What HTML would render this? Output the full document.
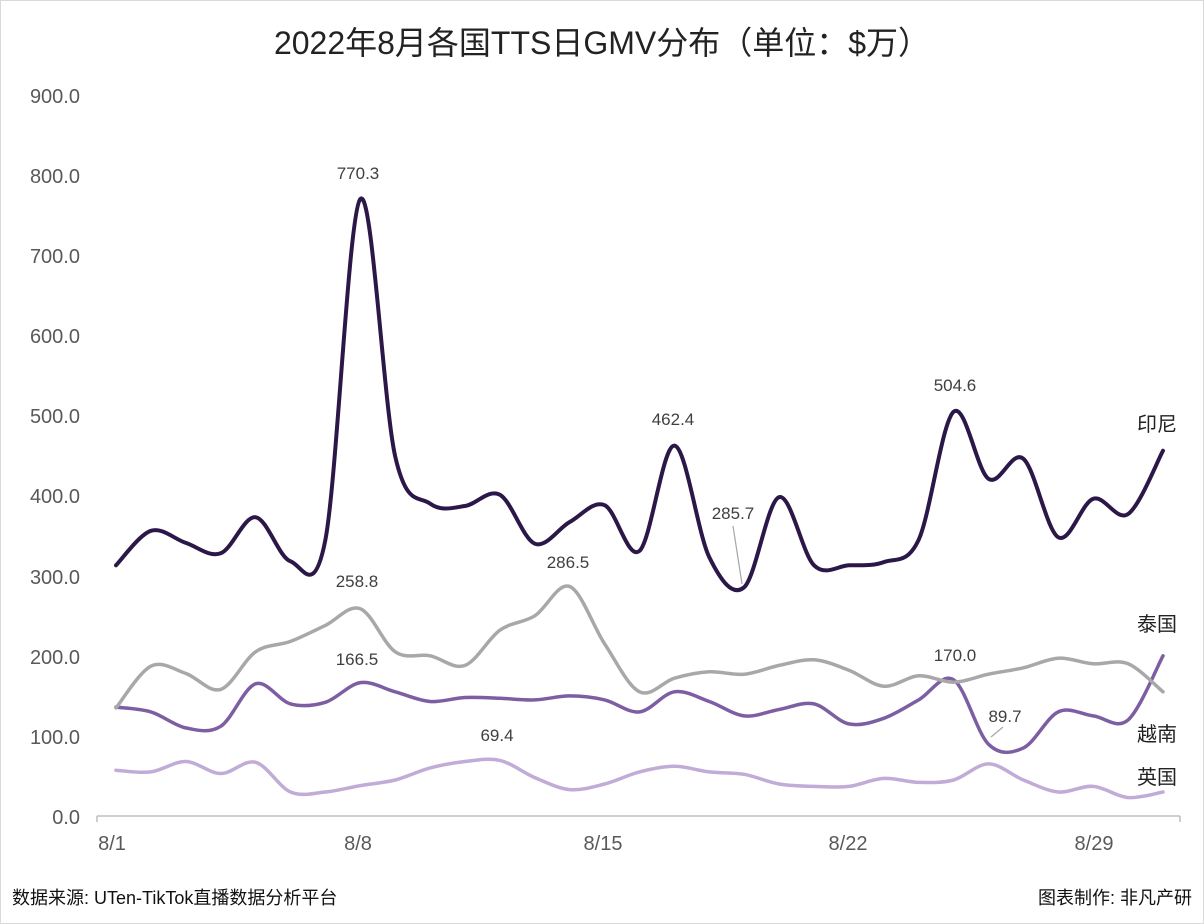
<!DOCTYPE html>
<html><head><meta charset="utf-8"><style>
body{margin:0;background:#fff;}
svg{display:block;font-family:"Liberation Sans","Noto Sans CJK SC",sans-serif;}
</style></head><body>
<svg id="s" width="1204" height="924" viewBox="0 0 1204 924" xmlns="http://www.w3.org/2000/svg">
<rect x="0.5" y="0.5" width="1203" height="923" fill="#fff" stroke="#d9d9d9"/>
<text x="602" y="54" font-size="32" text-anchor="middle" fill="#222">2022年8月各国TTS日GMV分布（单位：$万）</text>
<g font-size="20" fill="#595959" text-anchor="end">
<text x="80" y="103">900.0</text><text x="80" y="183">800.0</text><text x="80" y="263">700.0</text>
<text x="80" y="343">600.0</text><text x="80" y="423">500.0</text><text x="80" y="503">400.0</text>
<text x="80" y="584">300.0</text><text x="80" y="664">200.0</text><text x="80" y="744">100.0</text>
<text x="80" y="824">0.0</text>
</g>
<line x1="97" y1="816" x2="1180" y2="816" stroke="#bfbfbf" stroke-width="1.5"/>
<g stroke="#bfbfbf" stroke-width="1.5">
<line x1="97" y1="816" x2="97" y2="822"/><line x1="1180" y1="816" x2="1180" y2="822"/>
</g>
<g font-size="20" fill="#595959" text-anchor="middle">
<text x="112" y="850">8/1</text><text x="358" y="850">8/8</text><text x="603" y="850">8/15</text>
<text x="848" y="850">8/22</text><text x="1094" y="850">8/29</text>
</g>
<g id="lines"></g>
<g font-size="17" fill="#404040" text-anchor="middle">
<text x="358" y="179">770.3</text><text x="673" y="425">462.4</text><text x="733" y="519">285.7</text>
<text x="955" y="391">504.6</text><text x="357" y="587">258.8</text><text x="568" y="568">286.5</text>
<text x="357" y="665">166.5</text><text x="955" y="661">170.0</text><text x="1005" y="722">89.7</text>
<text x="497" y="741">69.4</text>
</g>
<line x1="733" y1="526" x2="742" y2="584" stroke="#a6a6a6" stroke-width="1.2"/>
<line x1="1003" y1="727" x2="991" y2="737" stroke="#a6a6a6" stroke-width="1.2"/>
<g font-size="20" fill="#222" text-anchor="middle">
<text x="1157" y="431">印尼</text><text x="1157" y="631">泰国</text>
<text x="1157" y="741">越南</text><text x="1157" y="784">英国</text>
</g>
<text x="12" y="904" font-size="18" fill="#111">数据来源: UTen-TikTok直播数据分析平台</text>
<text x="1192" y="904" font-size="18" fill="#111" text-anchor="end">图表制作: 非凡产研</text>
</svg>
<script>
var S=[
{c:"#c0acd6",w:3.5,d:[57,55,68,53,67,30,30,38,45,60,68,69.4,48,33,40,55,62,55,52,40,37,37,47,42,45,65,45,30,37,23,30]},
{c:"#7d5ea3",w:3.5,d:[136,130,110,112,165,140,142,166.5,155,143,148,147,145,150,145,130,155,143,125,133,140,115,122,145,170,89.7,85,130,125,120,200]},
{c:"#a8a8a8",w:3.5,d:[135,187,178,158,205,218,238,258.8,205,200,188,232,250,286.5,215,155,172,180,177,188,195,182,162,175,167,177,185,197,190,190,155]},
{c:"#2b1848",w:4,d:[313,356,341,328,373,318,345,770.3,449,390,387,401,340,367,388,331,462.4,323,285.7,398,313,313,317,345,504.6,421,446,348,396,377,456]}
];
var g=document.getElementById("lines"),h="";
S.forEach(function(s){
 var p=s.d.map(function(v,i){return [116+i*34.9,816-v*0.801];});
 var d="M"+p[0][0].toFixed(1)+","+p[0][1].toFixed(1);
 for(var i=0;i<p.length-1;i++){
  var p0=p[i-1]||p[i],p1=p[i],p2=p[i+1],p3=p[i+2]||p2,t=6;
  d+=" C"+(p1[0]+(p2[0]-p0[0])/t).toFixed(1)+","+(p1[1]+(p2[1]-p0[1])/t).toFixed(1)+" "+
     (p2[0]-(p3[0]-p1[0])/t).toFixed(1)+","+(p2[1]-(p3[1]-p1[1])/t).toFixed(1)+" "+p2[0].toFixed(1)+","+p2[1].toFixed(1);
 }
 h+='<path d="'+d+'" fill="none" stroke="'+s.c+'" stroke-width="'+s.w+'" stroke-linejoin="round" stroke-linecap="round"/>';
});
g.innerHTML=h;
</script>
</body></html>
